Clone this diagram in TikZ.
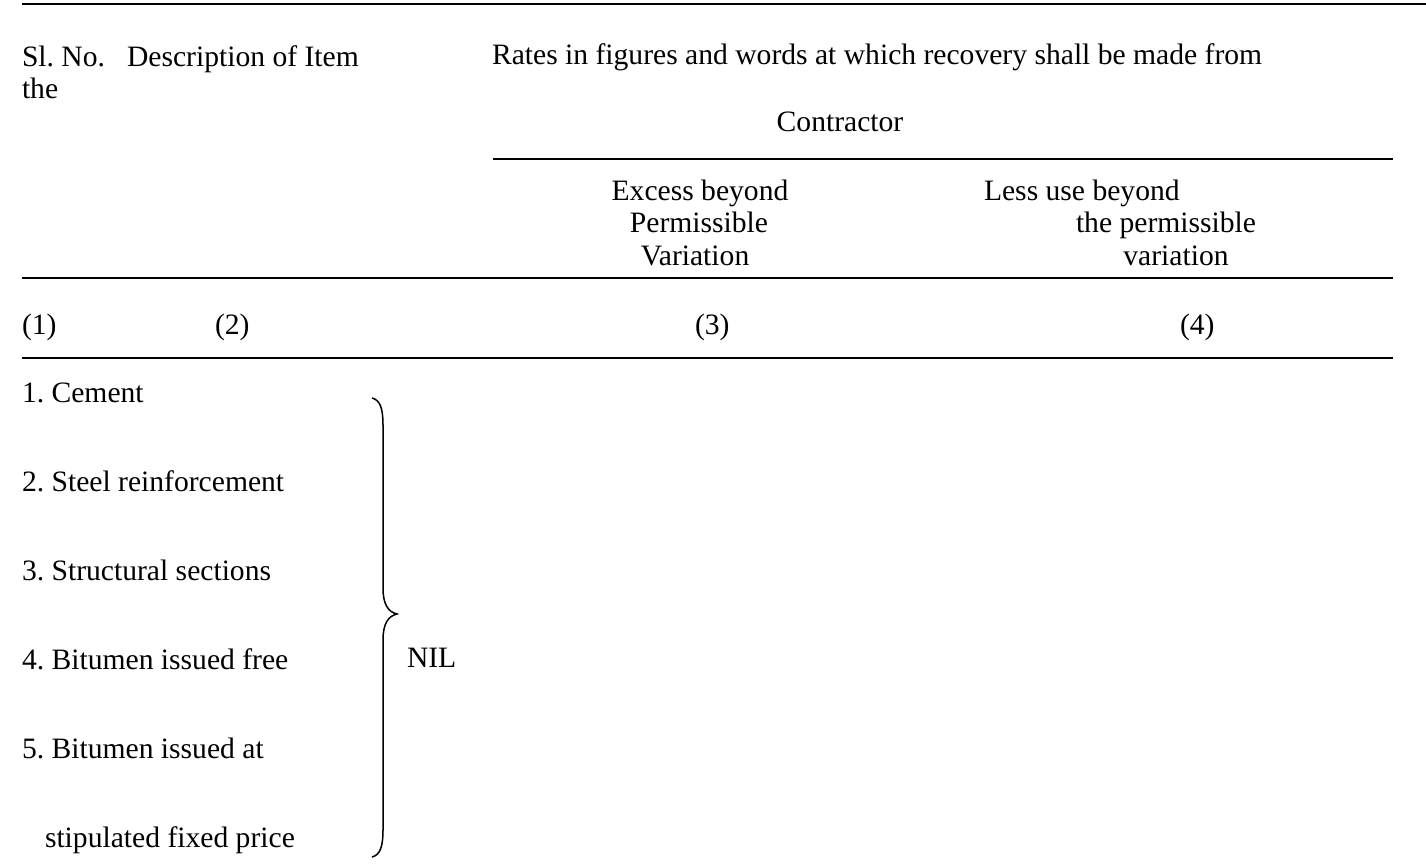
\documentclass[tikz,border=0pt]{standalone}
\usepackage{fontspec}
\setmainfont{Liberation Serif}
\frenchspacing
\begin{document}
\begin{tikzpicture}[x=1pt,y=-1pt,
  txt/.style={inner sep=0pt,outer sep=0pt,font=\fontsize{29.6}{33}\selectfont},
  lt/.style={txt,anchor=base west},
  ct/.style={txt,anchor=base},
  rule/.style={line width=1.7pt},
  bracestyle/.style={line width=1.5pt}]
\useasboundingbox (0,0) rectangle (1426,865);
% rules
\draw[rule] (22,4) -- (1426,4);
\draw[rule] (493,159) -- (1393,159);
\draw[rule] (22,278) -- (1393,278);
\draw[rule] (22,358) -- (1393,358);
% header
\node[lt] (slno) at (22,66) {Sl. No.};
\node[lt] (desc) at (127,66) {Description of Item};
\node[lt] (the) at (22,98) {the};
\node[lt] (rates) at (492,64) {Rates in figures and words at which recovery shall be made from};
\node[ct] (contr) at (840,131) {Contractor};
\node[ct] (ex1) at (700,200) {Excess beyond};
\node[ct] (ex2) at (699,232) {Permissible};
\node[ct] (ex3) at (695,265) {Variation};
\node[lt] (le1) at (984,200) {Less use beyond};
\node[ct] (le2) at (1166,232) {the permissible};
\node[ct] (le3) at (1176,265) {variation};
\node[lt] (c1) at (22,334) {(1)};
\node[lt] (c2) at (215,334) {(2)};
\node[lt] (c3) at (695,334) {(3)};
\node[lt] (c4) at (1180,334) {(4)};
% items
\node[lt] (i1) at (22,402) {1. Cement};
\node[lt] (i2) at (22,491) {2. Steel reinforcement};
\node[lt] (i3) at (22,580) {3. Structural sections};
\node[lt] (i4) at (22,669) {4. Bitumen issued free};
\node[lt] (i5) at (22,758) {5. Bitumen issued at};
\node[lt] (i5b) at (45,847) {stipulated fixed price};
\node[lt] (nil) at (407,667) {NIL};
% brace
\draw[bracestyle] (372,398) .. controls (380,400) and (383,408) .. (383,425)
  -- (383,588) .. controls (383,604) and (388,612) .. (397,614)
  .. controls (388,616) and (383,624) .. (383,640)
  -- (383,830) .. controls (383,847) and (380,855) .. (372,857);
\end{tikzpicture}
\end{document}
